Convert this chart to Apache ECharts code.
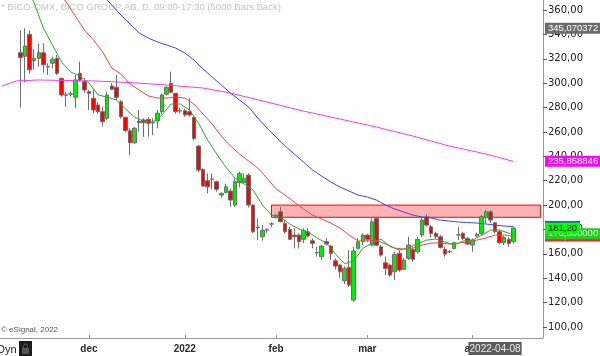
<!DOCTYPE html>
<html><head><meta charset="utf-8">
<script src="https://cdn.jsdelivr.net/npm/echarts@6/dist/echarts.min.js"></script>
<style>html,body{margin:0;padding:0;background:#fff}#c{width:600px;height:356px}</style>
</head><body><div id="c"></div>
<script>
// ---------- data ----------
const leadDates = ['2021-11-04','2021-11-05','2021-11-08','2021-11-09'];
const tradeDates = [
'2021-11-10','2021-11-11','2021-11-12','2021-11-15','2021-11-16','2021-11-17','2021-11-18','2021-11-19',
'2021-11-22','2021-11-23','2021-11-24','2021-11-25','2021-11-26','2021-11-29','2021-11-30',
'2021-12-01','2021-12-02','2021-12-03','2021-12-06','2021-12-07','2021-12-08','2021-12-09','2021-12-10',
'2021-12-13','2021-12-14','2021-12-15','2021-12-16','2021-12-17','2021-12-20','2021-12-21','2021-12-22',
'2021-12-23','2021-12-27','2021-12-28','2021-12-29','2021-12-30',
'2022-01-03','2022-01-04','2022-01-05','2022-01-07','2022-01-10','2022-01-11','2022-01-12','2022-01-13',
'2022-01-14','2022-01-17','2022-01-18','2022-01-19','2022-01-20','2022-01-21','2022-01-24','2022-01-25',
'2022-01-26','2022-01-27','2022-01-28','2022-01-31',
'2022-02-01','2022-02-02','2022-02-03','2022-02-04','2022-02-07','2022-02-08','2022-02-09','2022-02-10',
'2022-02-11','2022-02-14','2022-02-15','2022-02-16','2022-02-17','2022-02-18','2022-02-21','2022-02-22',
'2022-02-23','2022-02-24','2022-02-25','2022-02-28',
'2022-03-01','2022-03-02','2022-03-03','2022-03-04','2022-03-07','2022-03-08','2022-03-09','2022-03-10',
'2022-03-11','2022-03-14','2022-03-15','2022-03-16','2022-03-17','2022-03-18','2022-03-21','2022-03-22',
'2022-03-23','2022-03-24','2022-03-25','2022-03-28','2022-03-29','2022-03-30','2022-03-31',
'2022-04-01','2022-04-04','2022-04-05','2022-04-06','2022-04-07','2022-04-08','2022-04-11','2022-04-12',
'2022-04-13','2022-04-14'];
const trailDates = ['2022-04-19','2022-04-20','2022-04-21','2022-04-22','2022-04-25','2022-04-26'];

// [open, close, low, high]
const ohlc = [
[325,321,280,343],[322,330.5,301,345],[340,311,308,343],[318.4,320.4,311,328],[320.4,325,313.5,332.7],
[325,315,308.6,332.7],[313.6,313.2,306.7,316.3],[316.3,319.6,312.2,321.7],[320.4,308.1,306.7,323.1],
[304,290.3,289,304.5],[290.5,290.1,280.7,293],[291,291.3,289,293],[288.4,302.6,279.4,306.7],
[308.1,302.6,301.2,317.6],[301.2,294.4,291.7,304],
[293,291.6,278,294.4],[287.6,278,275.3,294.4],[282.1,276.6,275,284],[276.6,268.4,264.3,280.7],
[271.2,290.3,269.5,293],[297.7,295,294.4,299.9],[296.6,288.4,286.2,306.7],[284.8,272.5,271,286],
[272,261,260,272.5],[261,251.1,241,263],[251.1,263,250,264],[268.9,267.5,260.2,278],[269.8,267.5,256,271.2],
[270.3,267.1,256,272],[267.4,267.7,257.5,271.2],[268.9,275.3,263,278],[276.6,290.3,275,291.5],
[290.9,296.6,290,297.4],[299.9,292.5,291.7,309.4],[291.7,276.6,275,291.7],[277.4,277.2,275,280],
[277.4,273.9,272.5,279],[276.6,273.9,272.5,287.6],[272,254.7,253,272.5],[248.4,228.7,227,249.2],
[229.3,215.6,215,230.1],[220,215,209.6,226],[221.4,221.2,213,226],[219.2,213,211,220],[208.2,209.6,206,210.5],
[210.4,215,209.6,217.6],[211.5,204.1,198.6,213.7],[200,219.2,198.6,221.9],[218.3,226,214.5,227.4],
[218.3,221.9,217.6,226],[224.6,200,198,226],[200,178.1,177,200.5],[182,181.5,171.3,189.1],
[174,179.5,170.8,183.6],[179.5,179.8,177,181],[184.4,184.6,182,186],
[189.9,191.8,189,192.5],[194.5,186.3,186,198.6],[185,178.1,176.8,188],[180,171.9,171.3,182],
[175.4,174,164.5,181],[175.4,170,164.5,176.8],[171.9,179,169,181],[178.1,174.6,173.7,181],
[170.7,168.6,164.5,172.7],[160.9,161.1,157.6,165.8],[157.6,166.4,155,167.2],[170,168.1,167,172.7],
[166.4,160.4,155,167.2],[154.3,150,147.3,156.3],[150.8,145.3,140,151.7],[137.9,148.1,135.2,149.8],
[148.9,134.4,132.9,163.1],[122.1,162.3,120.7,165.8],[164.5,170,163.7,172.7],[170,175.4,167.2,176.8],
[175.4,171.9,170,176.2],[167.1,186.3,166.3,189.1],[189.1,167.1,166.3,190.4],[165.8,159,157.6,167.2],
[152.7,148.1,142.6,157.6],[150.8,142.6,141.2,152.2],[145.3,159.6,138.5,161.7],[160.4,146.7,145.3,163.1],
[147.3,155,146.7,156.3],[156.3,167.2,155,174],[163.7,155.5,153.6,165.3],[161.7,171.9,160.4,174],
[175.4,187.7,173.7,190.4],[190.4,183.6,182.2,192.4],[182.2,176.8,173.5,183.6],[176.8,174,172.7,178.1],
[174,165.3,164.5,175.4],[163.7,159.8,157.6,165.8],[161.7,161.9,160.4,163.1],[164.5,169.1,163.7,170],
[175.4,175.6,171.3,182.2],[176.8,172.7,171.3,178.1],[172.7,168.1,167.2,174],
[167.2,171.3,161.7,172.7],[174.6,176,174,177.4],[176.8,190.4,175.4,191.8],[189.9,194.5,185.3,195.8],
[194.5,187.7,185.3,195.8],[185.5,178.1,176.8,186.3],[178.1,169.1,168.1,179.5],[169.1,173.5,167.2,174.6],
[171.9,168.6,165.8,173.5],[170,181.2,168.6,181.9]];

const maGreen = [
['2021-11-11',380],['2021-11-15',365.7],['2021-11-17',345.2],['2021-11-19',331.3],['2021-11-23',317.3],
['2021-11-25',309.1],['2021-11-29',305.9],['2021-12-01',300.1],['2021-12-03',290.3],['2021-12-07',288.6],
['2021-12-09',286.2],['2021-12-13',278.8],['2021-12-15',272.2],['2021-12-17',268.9],['2021-12-21',268.1],
['2021-12-23',273.9],['2021-12-28',282.9],['2021-12-30',282.9],['2022-01-04',278],['2022-01-07',267.3],
['2022-01-11',253.4],['2022-01-13',241.9],['2022-01-17',231.2],['2022-01-19',222.2],['2022-01-21',217.3],
['2022-01-25',212.3],['2022-01-27',200],['2022-01-31',191.8],['2022-02-02',190.2],['2022-02-04',184.5],
['2022-02-08',180.4],['2022-02-10',177.9],['2022-02-14',173],['2022-02-16',168.9],['2022-02-18',160],
['2022-02-22',152],['2022-02-24',154],['2022-02-28',164.5],['2022-03-02',168.9],['2022-03-04',172],
['2022-03-08',166],['2022-03-10',163.1],['2022-03-14',164.8],['2022-03-16',168.1],['2022-03-18',171.3],
['2022-03-22',172.2],['2022-03-24',169.7],['2022-03-28',167.2],['2022-03-30',170.6],['2022-04-01',171.3],
['2022-04-05',175],['2022-04-07',179.5],['2022-04-11',179.5],['2022-04-13',177],['2022-04-14',176.5]];

const maRed = [
['2021-11-22',375],['2021-11-24',366.6],['2021-11-26',355.1],['2021-11-30',343.6],['2021-12-02',335.4],
['2021-12-06',325.5],['2021-12-08',312.4],['2021-12-10',307.5],['2021-12-14',299.3],['2021-12-16',294.4],
['2021-12-20',289.5],['2021-12-22',287.8],['2021-12-27',287.8],['2021-12-29',288.6],['2022-01-03',287.8],
['2022-01-05',282.9],['2022-01-10',274.7],['2022-01-12',266.5],['2022-01-14',256.6],['2022-01-18',248.4],
['2022-01-20',241.9],['2022-01-24',236.1],['2022-01-26',230.4],['2022-01-28',222.2],['2022-02-01',213.2],
['2022-02-03',208.2],['2022-02-07',202.5],['2022-02-09',196.8],['2022-02-11',191.8],['2022-02-15',188.5],
['2022-02-17',185.3],['2022-02-21',181.2],['2022-02-23',175.4],['2022-02-25',170.6],['2022-03-01',170.6],
['2022-03-03',171.3],['2022-03-07',168.1],['2022-03-09',164.8],['2022-03-11',163.9],['2022-03-15',164.8],
['2022-03-17',167.2],['2022-03-21',168.9],['2022-03-23',168.9],['2022-03-25',168.1],['2022-03-29',168.9],
['2022-03-31',169.7],['2022-04-04',171.3],['2022-04-06',173],['2022-04-08',175.4],['2022-04-12',175.4],
['2022-04-14',174.6]];

const maBlue = [
['2021-12-06',372.3],['2021-12-08',364.1],['2021-12-10',355.9],['2021-12-14',348.5],['2021-12-16',341.1],
['2021-12-20',337],['2021-12-22',333.8],['2021-12-27',331.3],['2021-12-29',328.8],['2022-01-03',324.7],
['2022-01-05',319],['2022-01-10',311.6],['2022-01-12',305],['2022-01-14',298.5],['2022-01-18',291.9],
['2022-01-20',286.2],['2022-01-24',280.4],['2022-01-26',271.4],['2022-01-28',263.2],['2022-02-01',255.8],
['2022-02-03',248.4],['2022-02-07',241.9],['2022-02-09',235.3],['2022-02-11',228.8],['2022-02-15',223.8],
['2022-02-17',218.9],['2022-02-21',214.8],['2022-02-23',211.5],['2022-02-25',208.2],['2022-03-01',206.6],
['2022-03-03',204.1],['2022-03-07',200],['2022-03-09',196.8],['2022-03-11',194.3],['2022-03-15',191.8],
['2022-03-17',190.2],['2022-03-21',189.4],['2022-03-23',187.7],['2022-03-25',186.9],['2022-03-29',186.1],
['2022-03-31',185.7],['2022-04-04',185.3],['2022-04-06',184.5],['2022-04-08',183.6],['2022-04-12',182.8],
['2022-04-14',182.4]];

const maMagenta = [
['2021-11-04',297.7],['2021-11-09',301.8],['2021-11-16',302.6],['2021-12-02',301.8],['2021-12-14',300.5],
['2021-12-27',298.5],['2022-01-10',296],['2022-01-18',291.9],['2022-01-28',284.5],['2022-02-09',277.1],
['2022-02-21',270.6],['2022-03-03',264],['2022-03-15',256.6],['2022-03-25',248.4],['2022-04-06',241.9],
['2022-04-14',235.858846]];

const yTickValues = [100,120,140,160,180,200,220,240,260,280,300,320,340,360];
const monthStarts = ['2021-12-01','2022-01-03','2022-02-01','2022-03-01','2022-04-01'];
const monthNames = ['dec','2022','feb','mar','apr'];
const zoneDates = ['2022-01-31','2022-04-26'];
const zoneRange = [190, 200];
const tagValues = [345.070372, 235.858846, 182.4, 174.6, 176.5, 181.2];
const cursorDate = '2022-04-08';
const titleText = '* BICO-OMX, BICO GROUP AB, D, 09:00-17:30 (5000 Bars Back)';
const creditText = '\u00A9 eSignal, 2022';

// ---------- chart ----------
const cats = leadDates.concat(tradeDates, trailDates);
const candleData = leadDates.map(() => ['-','-','-','-']).concat(ohlc);
const tagStyle = [
  {bg:'#6b6b6b', fg:'#ffffff', dec:6},
  {bg:'#ff00ff', fg:'#ffffff', dec:6},
  {bg:'#3a3aff', fg:'#ffffff', dec:2},
  {bg:'#ff2020', fg:'#ffffff', dec:6},
  {bg:'#22cc22', fg:'#d8f8d8', dec:6},
  {bg:'#00ff00', fg:'#000000', dec:2}
];
const comma = (v, d) => v.toFixed(d).replace('.', ',');
const tagData = tagValues.map((v, i) => ({
  yAxis: v,
  lineStyle: {color: 'rgba(0,0,0,0)', width: 1},
  label: {
    show: true, position: 'end', distance: 2,
    formatter: comma(v, tagStyle[i].dec),
    backgroundColor: tagStyle[i].bg, color: tagStyle[i].fg,
    fontSize: 9.5, fontFamily: 'Liberation Sans', lineHeight: 10,
    padding: [1, 3, 0, 3], opacity: 1
  }
}));

const chart = echarts.init(document.getElementById('c'), null, {renderer: 'canvas'});
const isMonthStart = (i, v) => monthStarts.indexOf(v) >= 0;
const lineBase = {type: 'line', symbol: 'none', showSymbol: false, connectNulls: true, silent: true, clip: true, z: 3};

chart.setOption({
  animation: false,
  grid: {left: 0, right: 57, top: 0, bottom: 18},
  xAxis: {
    type: 'category', data: cats, boundaryGap: true,
    axisLine: {lineStyle: {color: '#9a9a9a', width: 1}},
    axisTick: {show: true, inside: true, length: 3, alignWithLabel: true, interval: isMonthStart, lineStyle: {color: '#9a9a9a'}},
    axisLabel: {
      interval: isMonthStart, margin: 6,
      formatter: v => monthNames[monthStarts.indexOf(v)] || '',
      color: '#2a2a2a', fontSize: 10, fontWeight: 'bold', fontFamily: 'Liberation Sans'
    },
    splitLine: {show: false},
    axisPointer: {
      show: true, type: 'line', value: cats.indexOf(cursorDate), status: 'show', triggerTooltip: false,
      lineStyle: {color: 'rgba(0,0,0,0)', width: 0},
      label: {show: true, backgroundColor: '#5c5c5c', color: '#eeeeee', fontSize: 10, fontFamily: 'Liberation Sans',
              padding: [2, 1, 1, 1], margin: 4, borderRadius: 0}
    }
  },
  yAxis: {
    type: 'value', position: 'right', min: 91, max: 368.2, scale: true,
    axisLine: {show: true, lineStyle: {color: '#9a9a9a', width: 1}},
    axisTick: {show: true, length: 4, customValues: yTickValues, lineStyle: {color: '#555'}},
    axisLabel: {customValues: yTickValues, margin: 5, formatter: v => comma(v, 2),
                color: '#222', fontSize: 10, fontFamily: 'DejaVu Sans'},
    splitLine: {show: false}
  },
  series: [
    {
      type: 'candlestick', data: candleData, barWidth: 4, silent: true,
      itemStyle: {color: '#00ee00', color0: '#ff0000', borderColor: '#6e6e6e', borderColor0: '#6e6e6e', borderWidth: 1},
      markArea: {
        silent: true,
        itemStyle: {color: 'rgba(255,0,0,0.3)', borderColor: '#ff0000', borderWidth: 1},
        data: [[{xAxis: zoneDates[0], yAxis: zoneRange[0]}, {xAxis: zoneDates[1], yAxis: zoneRange[1]}]]
      }
    },
    Object.assign({}, lineBase, {data: maMagenta, lineStyle: {color: '#ff33ff', width: 1}}),
    Object.assign({}, lineBase, {data: maBlue, lineStyle: {color: '#4040ff', width: 1}}),
    Object.assign({}, lineBase, {data: maRed, lineStyle: {color: '#ff4040', width: 1}}),
    Object.assign({}, lineBase, {data: maGreen, lineStyle: {color: '#2ea82e', width: 1},
      markLine: {silent: true, symbol: ['none', 'none'], animation: false, data: tagData}})
  ],
  graphic: [
    {type: 'text', x: 1, y: 2, style: {text: titleText, fill: '#c4c4c4', fontSize: 9.5, fontFamily: 'Liberation Sans'}},
    {type: 'text', x: 1, y: 326, style: {text: creditText, fill: '#555', fontSize: 8, fontFamily: 'Liberation Sans'}},
    {type: 'text', x: -3, y: 344, style: {text: 'Dyn', fill: '#222', fontSize: 11, fontFamily: 'Liberation Sans'}},
    {type: 'rect', shape: {x: 19, y: 341, width: 13, height: 15}, style: {fill: '#1c1c1c'}},
    {type: 'rect', shape: {x: 22, y: 348, width: 7, height: 6}, style: {fill: '#555'}},
    {type: 'rect', shape: {x: 23.5, y: 344, width: 4, height: 5, r: [2, 2, 0, 0]}, style: {fill: 'none', stroke: '#555', lineWidth: 1}}
  ]
});
</script></body></html>
